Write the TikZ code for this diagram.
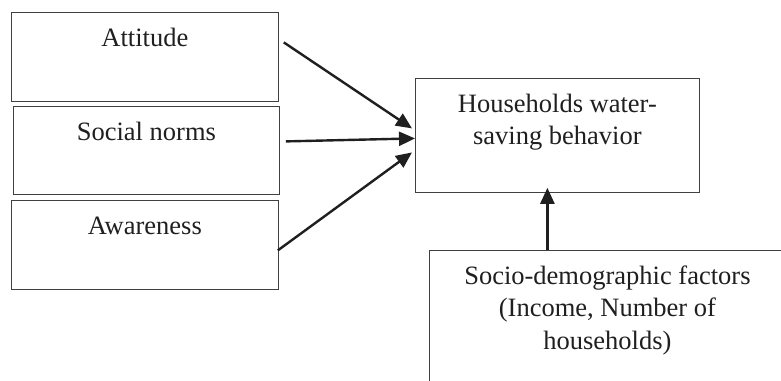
\documentclass[tikz,border=0pt]{standalone}
\usepackage{fontspec}
\setmainfont{Liberation Serif}
\usetikzlibrary{arrows.meta}

\begin{document}
\begin{tikzpicture}[x=1pt,y=-1pt,
  factor/.style={draw=black!75, line width=0.8pt, anchor=north west, align=center,
    font=\fontsize{26.5}{32.5}\selectfont, text=black!88,
    inner xsep=0pt, inner ysep=16pt, text height=18pt},
  link/.style={line width=2.4pt, black!88, -{Triangle[length=16pt,width=14pt]}}]
% picture frame: 781 x 380, the last box runs off the page
\clip (0,0) rectangle (781,380);

% three factors on the left
\node[factor, minimum width=267pt, text depth=39pt] (att) at (11,12) {Attitude};
\node[factor, minimum width=266pt, text depth=38pt] (soc) at (13,106) {Social norms};
\node[factor, minimum width=267pt, text depth=39pt] (awa) at (11,200) {Awareness};

% outcome (two lines: baseline sits on the last one)
\node[factor, minimum width=284pt, text height=50.5pt, text depth=31.5pt] (hh) at (415,78)
  {Households water-\\saving behavior};

% control factors (cut off at right and bottom)
\node[factor, minimum width=356pt, text height=83pt, text depth=85pt] (sdf) at (429,250)
  {Socio-demographic factors\\(Income, Number of\\households)};

% arrows into the outcome
\draw[link] ([xshift=5pt,yshift=14.5pt]att.east) -- ([xshift=-3pt,yshift=7pt]hh.west);
\draw[link] ([xshift=6pt,yshift=9pt]soc.east) -- ([yshift=-3pt]hh.west);
\draw[link] ([xshift=-1pt,yshift=-5.5pt]awa.east) -- ([xshift=-3pt,yshift=-17pt]hh.west);
\draw[link] ([xshift=-60pt]sdf.north) -- ([xshift=-10pt,yshift=5pt]hh.south);

\end{tikzpicture}
\end{document}
